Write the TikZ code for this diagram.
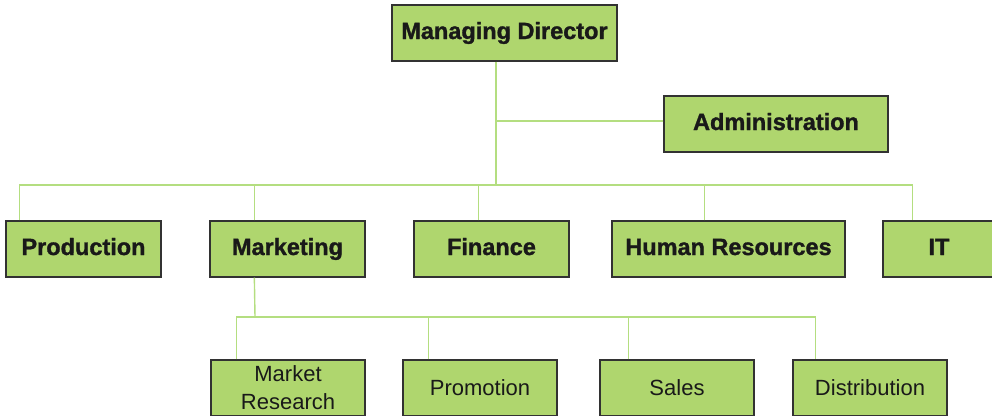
\documentclass[tikz,border=0pt]{standalone}
\usepackage{fontspec}
\setmainfont{Liberation Sans}
\newfontfamily\heavyfont{Liberation Sans}[BoldFeatures={FakeBold=1.3}]
\definecolor{boxfill}{RGB}{175,214,110}
\definecolor{linkgreen}{RGB}{180,222,128}
\definecolor{boxline}{RGB}{50,50,50}
\begin{document}
\begin{tikzpicture}[x=1pt,y=-1pt,
  unit/.style={draw=boxline,line width=1.3pt,fill=boxfill,rectangle,
    minimum height=56pt,inner sep=0pt,align=center,text=black!90},
  head/.style={unit,text height=17pt,text depth=5pt,
    font=\heavyfont\fontsize{23.5}{28}\selectfont\bfseries},
  sub/.style={unit,font=\fontsize{22}{28}\selectfont},
  link/.style={draw=linkgreen,line width=1.4pt}]
\useasboundingbox (0,0) rectangle (992,415);

% top level
\node[head,minimum width=225pt] (md) at (504.5,33) {Managing Director};
\node[head,minimum width=224pt] (admin) at (776,124) {Administration};

% departments
\node[head,minimum width=155pt] (prod) at (83.5,249) {Production};
\node[head,minimum width=155pt] (mkt) at (287.5,249) {Marketing};
\node[head,minimum width=155pt] (fin) at (491.5,249) {Finance};
\node[head,minimum width=233pt] (hr) at (728.5,249) {Human Resources};
\node[head,minimum width=112pt] (it) at (939,249) {IT};

% marketing sections
\node[sub,minimum width=154pt] (mr) at (288,388) {Market\\Research};
\node[sub,minimum width=154pt] (promo) at (480,388) {Promotion};
\node[sub,minimum width=154pt] (sales) at (677,388) {Sales};
\node[sub,minimum width=154pt] (dist) at (870,388) {Distribution};

% attachment points on the boxes
\coordinate (mdfoot) at ([xshift=-8.5pt]md.south);
\coordinate (adminside) at ([yshift=3pt]admin.west);
\coordinate (prodtop) at ([xshift=14pt]prod.north west);
\coordinate (mkttop) at ([xshift=45pt]mkt.north west);
\coordinate (fintop) at ([xshift=65pt]fin.north west);
\coordinate (hrtop) at ([xshift=93pt]hr.north west);
\coordinate (ittop) at ([xshift=30pt]it.north west);
\coordinate (mktfoot) at ([xshift=45pt]mkt.south west);
\coordinate (mrtop) at ([xshift=26pt]mr.north west);
\coordinate (promotop) at ([xshift=26pt]promo.north west);
\coordinate (salestop) at ([xshift=29pt]sales.north west);
\coordinate (disttop) at ([xshift=23pt]dist.north west);

% bus junctions
\coordinate (bus) at (496,185);
\coordinate (subbus) at (255,317);

% connectors
\draw[link] (mdfoot) -- (bus);
\draw[link] (adminside) -- (adminside -| mdfoot);
\draw[link] (prodtop) |- (bus) -| (ittop);
\draw[link] (mkttop) -- (mkttop |- bus);
\draw[link] (fintop) -- (fintop |- bus);
\draw[link] (hrtop) -- (hrtop |- bus);
\draw[link] (mktfoot) -- (subbus);
\draw[link] (mrtop) |- (subbus) -| (disttop);
\draw[link] (promotop) -- (promotop |- subbus);
\draw[link] (salestop) -- (salestop |- subbus);
\end{tikzpicture}
\end{document}
